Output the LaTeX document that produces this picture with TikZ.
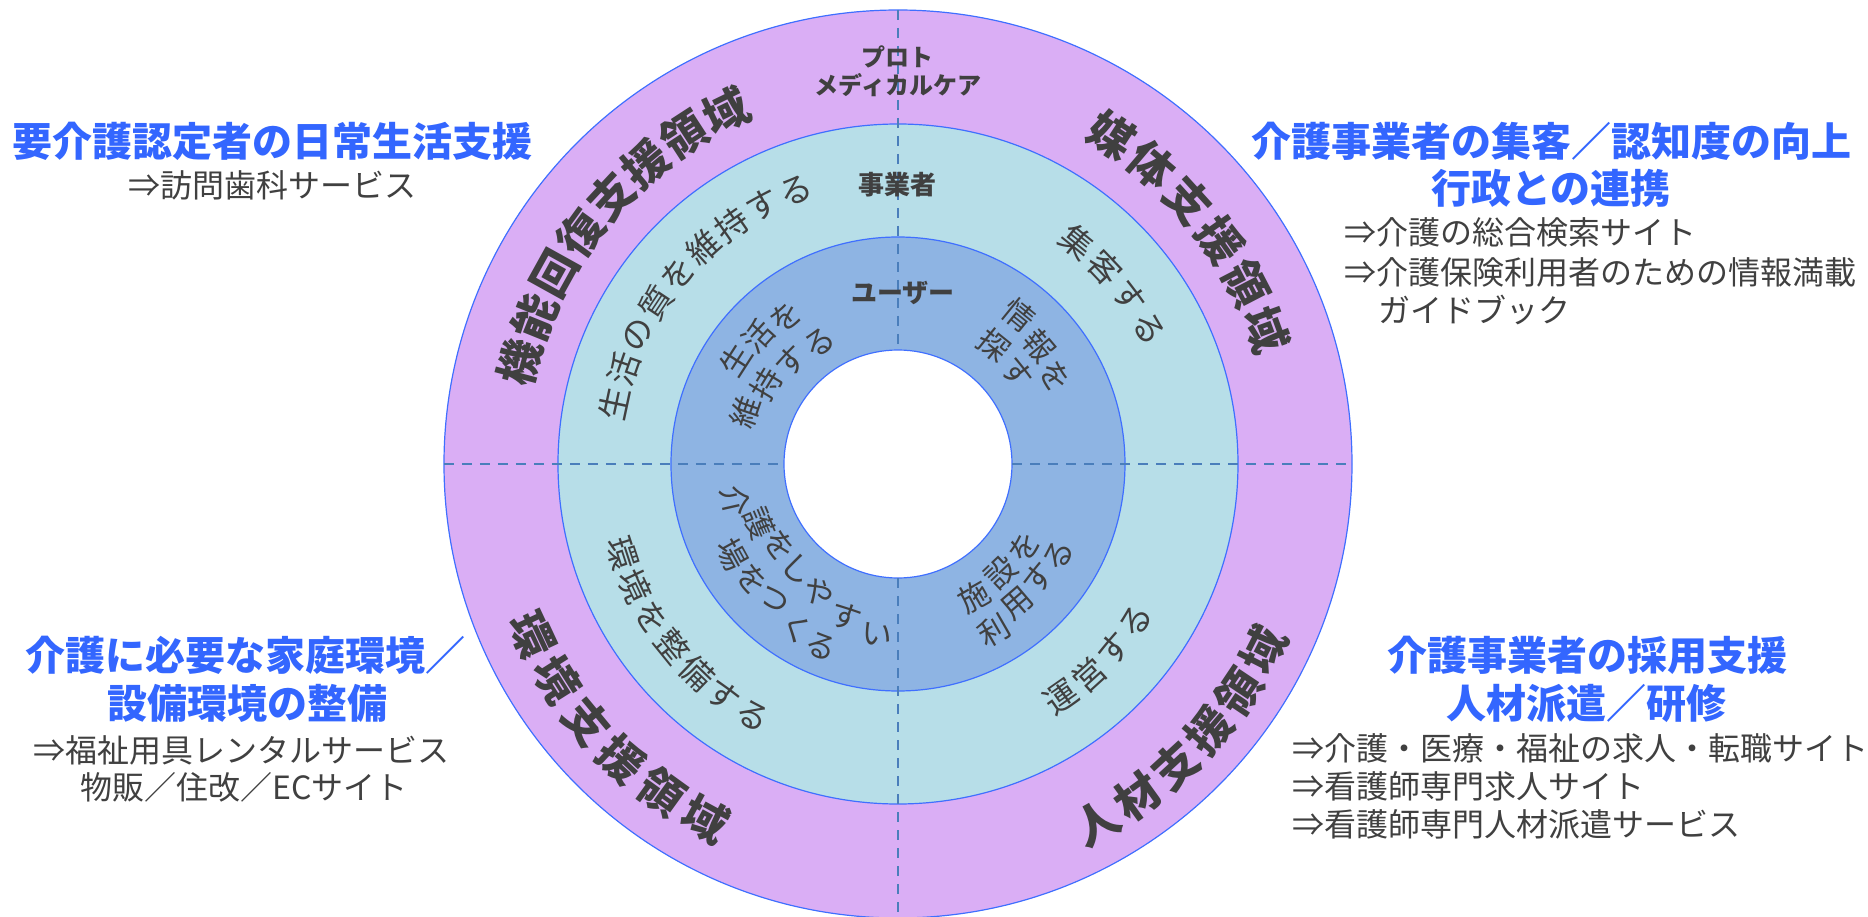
\documentclass[tikz,border=0pt]{standalone}
\usepackage{fontspec}
\setmainfont{Noto Sans CJK JP}
\definecolor{ringpurple}{HTML}{DAAEF5}
\definecolor{ringlight}{HTML}{B7DEE8}
\definecolor{ringblue}{HTML}{8EB4E3}
\definecolor{ringline}{HTML}{3F6FFF}
\definecolor{dashblue}{HTML}{4A7EBB}
\definecolor{txtgray}{HTML}{404040}
\definecolor{titleblue}{HTML}{3366FF}
% evenly spaced characters on an arc
\newcommand\arcchars[8]{% #1 name, #2 style, #3 start angle, #4 angle step, #5 start radius, #6 radius step, #7 rot offset, #8 chars
  \foreach \c [count=\i from 0] in {#8} {%
    \pgfmathsetmacro\ang{#3+\i*(#4)}%
    \pgfmathsetmacro\rad{#5+\i*(#6)}%
    \pgfmathsetmacro\rot{\ang+(#7)}%
    \node[#2, rotate=\rot] (#1-\i) at (\ang:\rad) {\c};}}
% characters at given angle/radius
\newcommand\placechars[4]{% #1 name, #2 style, #3 rot offset, #4 list char/angle/radius
  \foreach \c/\a/\r [count=\i from 0] in {#4} {%
    \pgfmathsetmacro\rot{\a+(#3)}%
    \node[#2, rotate=\rot] (#1-\i) at (\a:\r) {\c};}}
\begin{document}
\begin{tikzpicture}[x=1pt,y=1pt,
  ring/.style={draw=ringline, line width=1.2pt},
  divider/.style={draw=dashblue, line width=2.6pt, dash pattern=on 10pt off 8pt},
  title/.style={text=titleblue, font=\bfseries\fontsize{40}{48}\selectfont, inner sep=0pt},
  sub/.style={text=txtgray, font=\fontsize{32}{38}\selectfont, inner sep=0pt},
  ringbold/.style={text=txtgray, font=\bfseries\fontsize{45}{45}\selectfont, inner sep=0pt},
  ringtxt/.style={text=txtgray, font=\fontsize{33}{33}\selectfont, inner sep=0pt},
  innertxt/.style={text=txtgray, font=\fontsize{31}{31}\selectfont, inner sep=0pt},
  lab/.style={text=txtgray, font=\bfseries\fontsize{24}{28}\selectfont, inner sep=0pt},
  labbig/.style={text=txtgray, font=\bfseries\fontsize{26}{28}\selectfont, inner sep=0pt}]
\useasboundingbox (-898,-452) rectangle (970,464);
% rings
\coordinate (c) at (0,0);
\fill[ringpurple] (c) circle[radius=454];
\draw[ring] (c) circle[radius=454];
\fill[ringlight] (c) circle[radius=340];
\draw[ring] (c) circle[radius=340];
\fill[ringblue] (c) circle[radius=227];
\draw[ring] (c) circle[radius=227];
\fill[white] (c) circle[radius=114];
\draw[ring] (c) circle[radius=114];
% dividers
\coordinate (wo) at (-454,0); \coordinate (wi) at (-114,0);
\coordinate (eo) at (454,0);  \coordinate (ei) at (114,0);
\coordinate (no) at (0,454);  \coordinate (ni) at (0,114);
\coordinate (so) at (0,-454); \coordinate (si) at (0,-114);
\draw[divider] (wo) -- (wi);
\draw[divider] (ei) -- (eo);
\draw[divider] (no) -- (ni);
\draw[divider] (si) -- (so);
% horizontal labels
\node[lab] (proto1) at (0,407) {プロト};
\node[lab] (proto2) at (0,379) {メディカルケア};
\node[labbig] (jigyo) at (0,279) {事業者};
\node[labbig] (user) at (5,171) {ユーザー};
% outer ring
\arcchars{o1}{ringbold}{165}{-7.0}{392}{0}{-90}{機,能,回,復,支,援,領,域}
\arcchars{o2}{ringbold}{57}{-7.4}{392}{0}{-90}{媒,体,支,援,領,域}
\arcchars{o3}{ringbold}{205}{7.3}{404}{0}{90}{環,境,支,援,領,域}
\arcchars{o4}{ringbold}{299}{6.8}{410}{0}{90}{人,材,支,援,領,域}
% light ring
\arcchars{m1}{ringtxt}{168}{-7.2}{290}{0.25}{-90}{生,活,の,質,を,維,持,す,る}
\arcchars{m2}{ringtxt}{51}{-7.5}{285}{0}{-90}{集,客,す,る}
\arcchars{m3}{ringtxt}{198}{7.0}{290}{0}{90}{環,境,を,整,備,す,る}
\arcchars{m4}{ringtxt}{305}{7.2}{285}{0}{90}{運,営,す,る}
% inner ring
\placechars{i1a}{innertxt}{-90}{生/147.3/193, 活/137.5/189, を/127.5/185}
\placechars{i1b}{innertxt}{-90}{維/161/161, 持/148.8/154, す/136/148, る/123/144}
\placechars{i2a}{innertxt}{-90}{情/50.9/192, 報/40/184, を/29/180}
\placechars{i2b}{innertxt}{-90}{探/51.1/153, す/37.4/150}
\placechars{i3a}{innertxt}{90}{介/192.7/167, 護/203/151, を/214.7/144, し/226.4/145, や/238.5/151, す/251.2/161, い/263/172}
\placechars{i3b}{innertxt}{90}{場/208.7/189, を/218.5/186, つ/227.6/184, く/238.4/193, る/247.2/198}
\placechars{i4a}{innertxt}{90}{施/299.7/153, 設/313.4/150, を/326.6/151}
\placechars{i4b}{innertxt}{90}{利/300/192, 用/310.6/183, す/321/181, る/330.5/185}
% corner texts
\node[title] (tl1) at (-625,323) {要介護認定者の日常生活支援};
\node[sub] (tl2) at (-625,279) {⇒訪問歯科サービス};
\node[title] (tr1) at (653,323) {介護事業者の集客／認知度の向上};
\node[title] (tr2) at (653,276) {行政との連携};
\node[sub, anchor=west] (tr3) at (446,232) {⇒介護の総合検索サイト};
\node[sub, anchor=west] (tr4) at (446,192) {⇒介護保険利用者のための情報満載};
\node[sub, anchor=west] (tr5) at (480,154) {ガイドブック};
\node[title] (bl1) at (-652,-191) {介護に必要な家庭環境／};
\node[title] (bl2) at (-650,-239) {設備環境の整備};
\node[sub] (bl3) at (-656,-286) {⇒福祉用具レンタルサービス};
\node[sub] (bl4) at (-654,-323) {物販／住改／ECサイト};
\node[title] (br1) at (689,-191) {介護事業者の採用支援};
\node[title] (br2) at (688,-239) {人材派遣／研修};
\node[sub, anchor=west] (br3) at (394,-284) {⇒介護・医療・福祉の求人・転職サイト};
\node[sub, anchor=west] (br4) at (394,-322) {⇒看護師専門求人サイト};
\node[sub, anchor=west] (br5) at (394,-360) {⇒看護師専門人材派遣サービス};
\end{tikzpicture}
\end{document}
